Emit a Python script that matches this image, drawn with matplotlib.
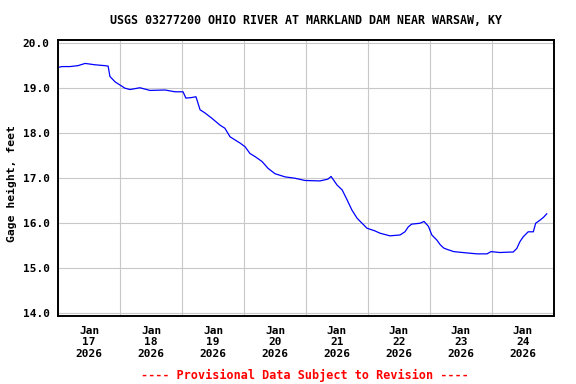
import pandas as pd
import matplotlib
matplotlib.use('Agg')
import matplotlib.pyplot as plt
import matplotlib.dates as mdates

# hours since 2026-01-17 00:00 and gage height (feet)
hours = [0, 1.5, 4.6, 7.7, 10.5, 14.3, 18.2, 19.4, 20.1, 22.1, 24.0, 25.9, 27.9,
         31.7, 35.6, 41.4, 45.3, 48.4, 49.5, 51.5, 53.4, 55.0, 56.9, 59.6, 62.7,
         64.6, 66.6, 70.5, 72.4, 74.3, 76.3, 79.0, 81.3, 84.0, 87.9, 91.7, 95.6,
         101.4, 104.5, 105.7, 108.0, 110.0, 111.9, 113.8, 115.8, 117.7, 119.6,
         122.7, 124.6, 128.5, 132.4, 134.3, 135.6, 136.9, 140.1, 141.7, 143.4,
         144.7, 146.6, 148.0, 149.3, 150.6, 153.2, 158.4, 162.2, 166.1, 167.6,
         171.1, 175.0, 176.2, 177.6, 178.8, 180.1, 182.0, 184.0, 184.9, 186.6,
         187.9, 189.2]
stage = [19.46, 19.48, 19.48, 19.50, 19.55, 19.52, 19.50, 19.49, 19.26, 19.14,
         19.07, 19.00, 18.97, 19.01, 18.95, 18.96, 18.92, 18.92, 18.78, 18.79,
         18.81, 18.52, 18.45, 18.33, 18.18, 18.11, 17.92, 17.78, 17.70, 17.55,
         17.48, 17.37, 17.22, 17.10, 17.03, 17.00, 16.95, 16.94, 16.98, 17.04,
         16.85, 16.74, 16.52, 16.29, 16.11, 16.00, 15.89, 15.83, 15.78, 15.72,
         15.74, 15.81, 15.92, 15.98, 16.00, 16.04, 15.93, 15.74, 15.63, 15.52,
         15.45, 15.42, 15.37, 15.34, 15.32, 15.32, 15.37, 15.35, 15.36, 15.36,
         15.44, 15.59, 15.70, 15.81, 15.81, 16.00, 16.07, 16.13, 16.21]

times = pd.Timestamp('2026-01-17') + pd.to_timedelta(hours, unit='h')

plt.rcParams['font.family'] = 'DejaVu Sans Mono'
plt.rcParams['font.weight'] = 'bold'

fig = plt.figure(figsize=(5.76, 3.84), dpi=100)
ax = fig.add_axes([0.1007, 0.1771, 0.8611, 0.7187])

ax.plot(times, stage, color='blue', lw=0.9)

ax.set_xlim(pd.Timestamp('2026-01-17'), pd.Timestamp('2026-01-25'))
ax.set_ylim(13.94, 20.07)
ax.set_yticks([14, 15, 16, 17, 18, 19, 20])
ax.yaxis.set_major_formatter(plt.FormatStrFormatter('%.1f'))

ax.xaxis.set_major_locator(mdates.HourLocator(byhour=12))
ax.xaxis.set_major_formatter(mdates.DateFormatter('%b\n%d\n%Y'))
ax.xaxis.set_minor_locator(mdates.DayLocator())

ax.grid(True, which='minor', axis='x', color='#c8c8c8', lw=0.8)
ax.grid(True, which='major', axis='y', color='#c8c8c8', lw=0.8)
ax.set_axisbelow(True)
ax.tick_params(which='both', length=0, labelsize=8)
ax.tick_params(axis='x', pad=7)
ax.tick_params(axis='y', pad=6)
for s in ax.spines.values():
    s.set_linewidth(1.4)

fig.text(0.532, 0.946, 'USGS 03277200 OHIO RIVER AT MARKLAND DAM NEAR WARSAW, KY',
         ha='center', va='center', fontsize=8.4, fontweight='bold')
fig.text(0.021, 0.523, 'Gage height, feet', rotation=90, ha='center', va='center',
         fontsize=8.2, fontweight='bold')
fig.text(0.53, 0.023, '---- Provisional Data Subject to Revision ----', color='red',
         ha='center', va='center', fontsize=8.5, fontweight='bold')

fig.savefig('out.png', dpi=100)
